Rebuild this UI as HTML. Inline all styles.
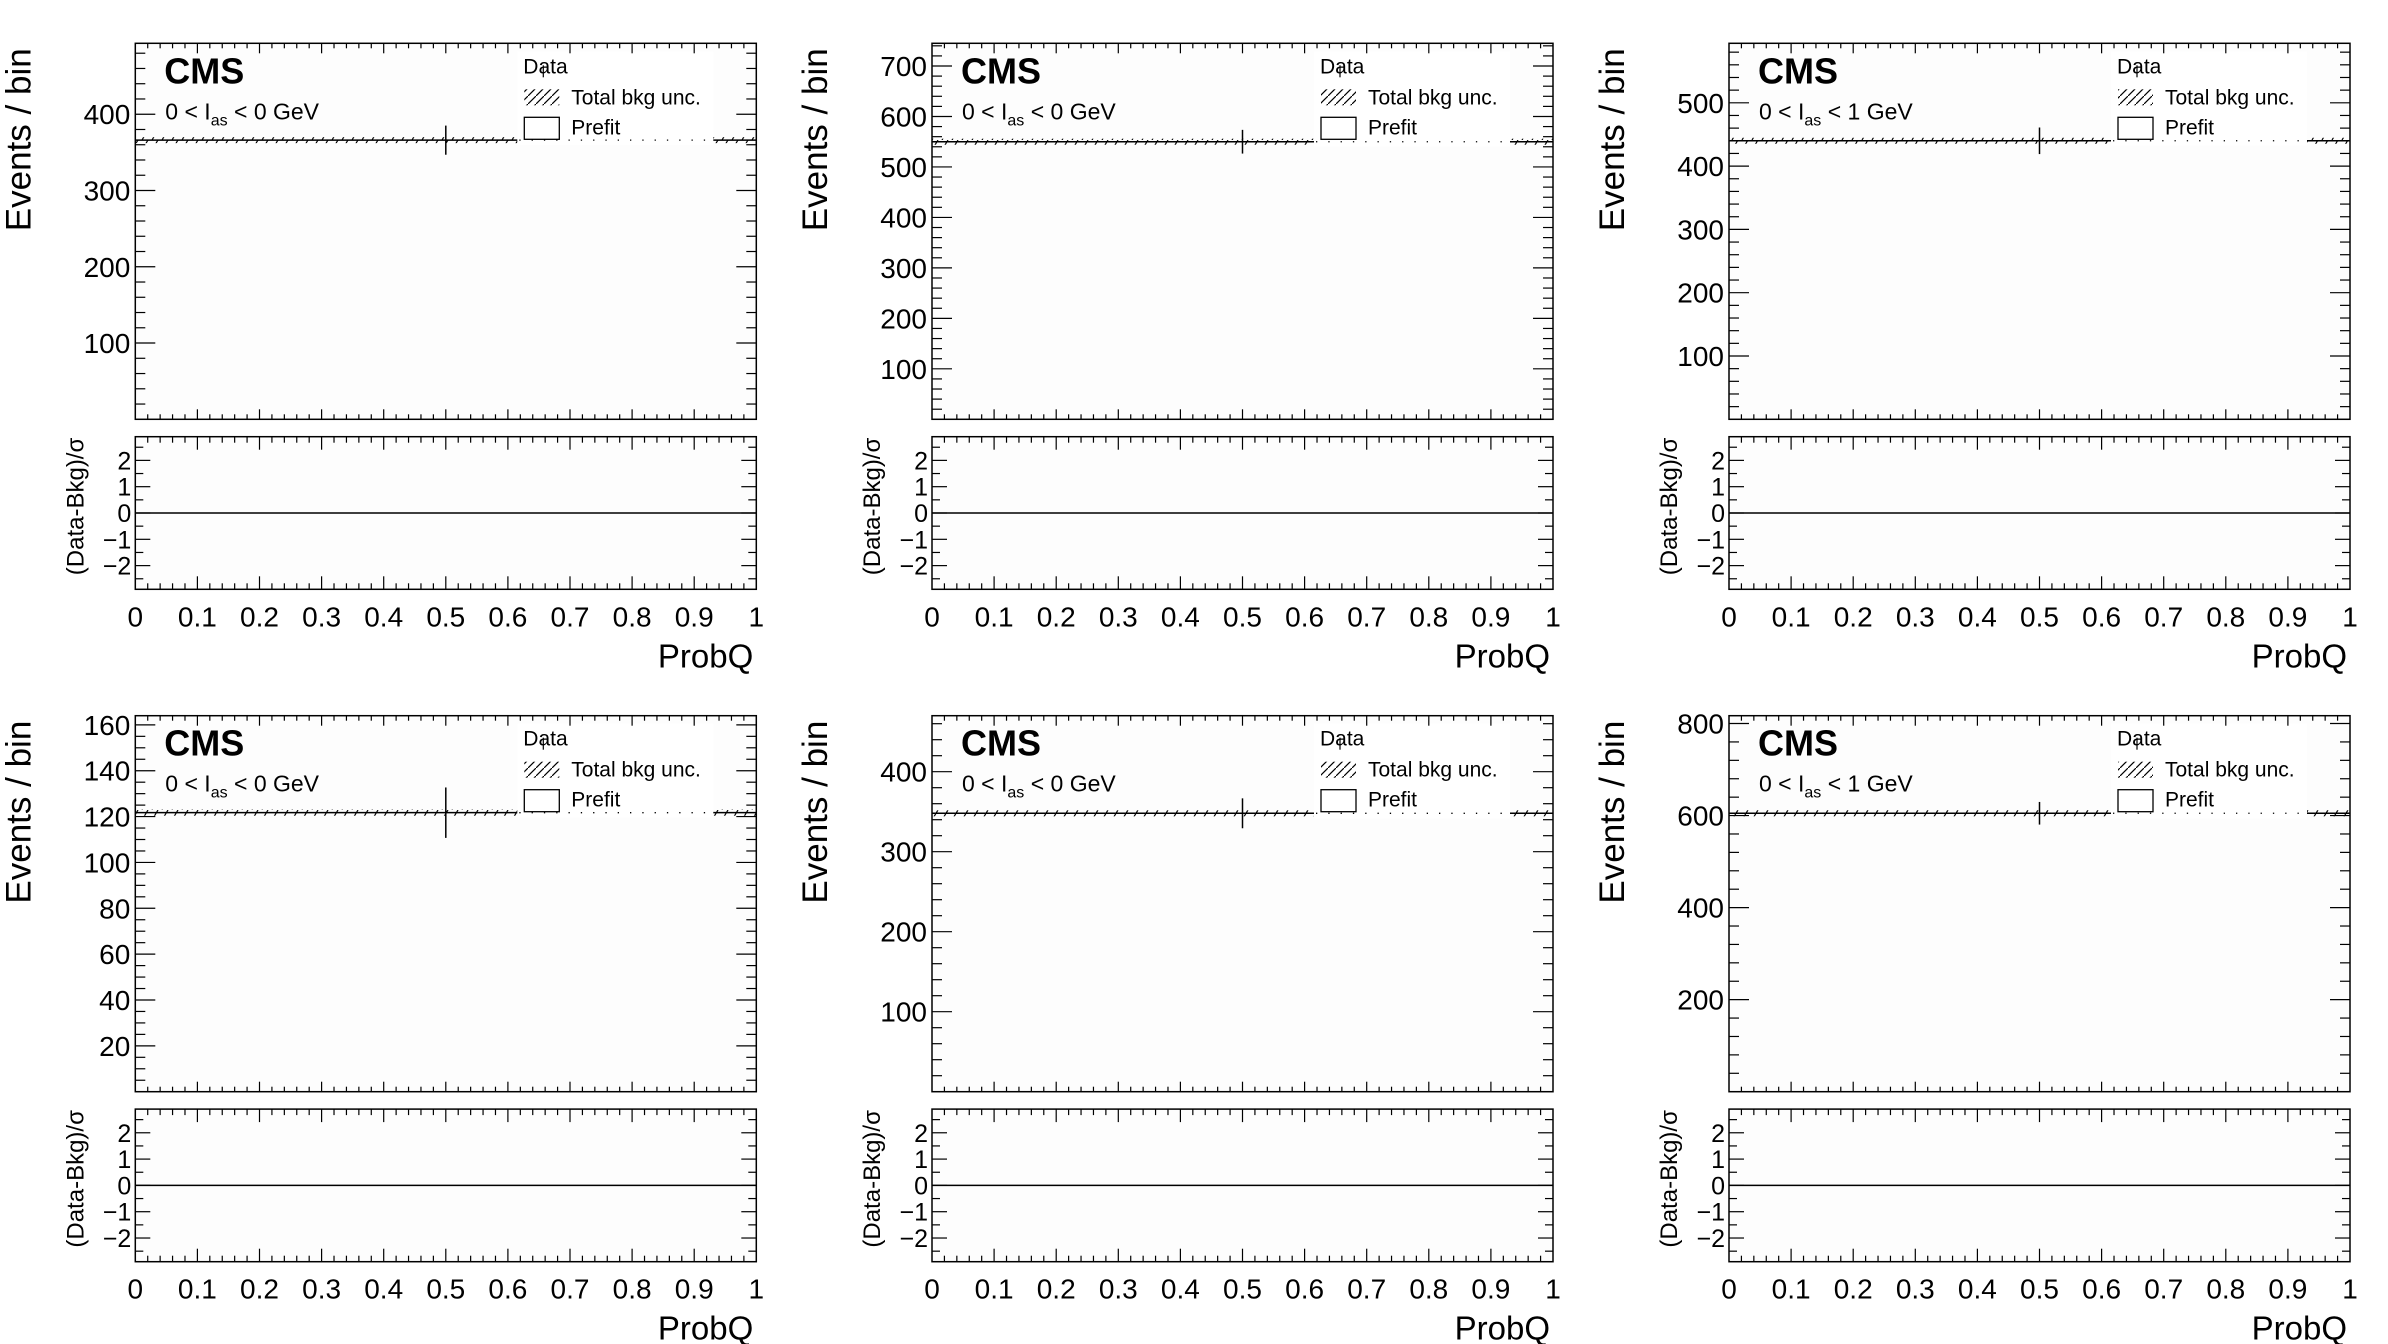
<!DOCTYPE html>
<html><head><meta charset="utf-8"><style>
html,body{margin:0;padding:0;background:#fff;}
svg{display:block;font-family:"Liberation Sans",Arial,sans-serif;}
</style></head><body>
<svg id="fig" width="2388" height="1344" viewBox="0 0 2388 1344" xmlns="http://www.w3.org/2000/svg">
<defs>
<pattern id="hatch" patternUnits="userSpaceOnUse" width="10" height="10">
<line x1="2" y1="10" x2="8" y2="0" stroke="#000" stroke-width="1.2"/>
</pattern>
<pattern id="hatch2" patternUnits="userSpaceOnUse" width="8" height="8">
<line x1="0" y1="8" x2="8" y2="0" stroke="#000" stroke-width="1.2"/>
</pattern>
</defs>
</svg>
<script>
// ---- data ----
const panelLabels = ["0 < I_as < 0 GeV","0 < I_as < 0 GeV","0 < I_as < 1 GeV","0 < I_as < 0 GeV","0 < I_as < 0 GeV","0 < I_as < 1 GeV"];
const yMax = [493, 745, 594, 164, 470, 817];
const yMajorStep = [100, 100, 100, 20, 100, 200];
const yMinorStep = [20, 20, 20, 5, 20, 40];
const bkgValues = [366, 550, 440, 121.7, 348, 605];
const bkgErrors = [2.6, 4, 3.2, 0.9, 2.5, 4.4];
const dataX = [0.5, 0.5, 0.5, 0.5, 0.5, 0.5];
const dataValues = [366, 550, 440, 121.7, 348, 605];
const dataErrors = [19.1, 23.5, 21, 11, 18.7, 24.6];
const pullValues = [0, 0, 0, 0, 0, 0];
const xTicks = [0,0.1,0.2,0.3,0.4,0.5,0.6,0.7,0.8,0.9,1];
const xTickLabels = ["0","0.1","0.2","0.3","0.4","0.5","0.6","0.7","0.8","0.9","1"];
const rTicks = [-2,-1,0,1,2];
const rTickLabels = ["\u22122","\u22121","0","1","2"];
const rRange = [-2.9, 2.9];

// ---- layout ----
const NS = "http://www.w3.org/2000/svg";
const svg = document.getElementById('fig');
const colX = [135.3, 932, 1729];
const rowY = [43.3, 715.7];
const W = 621, UH = 376, RT = 393.4, RH = 152.6;

function mk(tag, attrs, parent) {
  const e = document.createElementNS(NS, tag);
  for (const k in attrs) e.setAttribute(k, attrs[k]);
  (parent || svg).appendChild(e);
  return e;
}
function txt(s, attrs, parent) { const t = mk('text', attrs, parent); t.textContent = s; return t; }

for (let p = 0; p < 6; p++) {
  const L = colX[p % 3], T = rowY[Math.floor(p / 3)];
  const g = mk('g', {});
  
  
  const xs = v => L + v * W;
  const ys = v => T + UH - v / yMax[p] * UH;
  const rT = T + RT;
  const rs = v => rT + (rRange[1] - v) / (rRange[1] - rRange[0]) * RH;

  mk('rect', {x: L, y: T, width: W, height: UH, fill: '#fdfdfd'}, g);
  mk('rect', {x: L, y: rT, width: W, height: RH, fill: '#fdfdfd'}, g);

  const band = mk('rect', {x: L, y: ys(bkgValues[p] + bkgErrors[p]) - 1, width: W, height: Math.max(ys(bkgValues[p] - bkgErrors[p]) - ys(bkgValues[p] + bkgErrors[p]) + 2, 4), fill: 'url(#hatch)'}, g);
  
  
  const bl = mk('line', {x1: L, x2: L + W, y1: ys(bkgValues[p]), y2: ys(bkgValues[p]), stroke: '#000', 'stroke-width': 1.5}, g);
  
  

  const dp = mk('line', {x1: xs(dataX[p]), x2: xs(dataX[p]), y1: ys(dataValues[p] + dataErrors[p]), y2: ys(dataValues[p] - dataErrors[p]), stroke: '#000', 'stroke-width': 1.5}, g);
  
  

  // legend
  const lg = mk('g', {}, g);
  
  
  const by = ys(bkgValues[p]);
  mk('rect', {x: L + 382, y: T + 8, width: 196, height: by - T - 8 + 5, fill: '#fff'}, lg);
  mk('line', {x1: L + 384, x2: L + 578, y1: by, y2: by, stroke: '#000', 'stroke-width': 1.3, 'stroke-dasharray': '1.3 11'}, lg);
  txt('Data', {x: L + 388, y: T + 30, 'font-size': 21}, lg);
  mk('line', {x1: L + 408, x2: L + 408, y1: T + 22, y2: T + 34, stroke: '#000', 'stroke-width': 1.2}, lg);
  mk('rect', {x: L + 389, y: T + 46, width: 35, height: 16, fill: 'url(#hatch2)'}, lg);
  txt('Total bkg unc.', {x: L + 436, y: T + 61, 'font-size': 21}, lg);
  mk('rect', {x: L + 389, y: T + 74, width: 35, height: 22, fill: 'none', stroke: '#000', 'stroke-width': 1.3}, lg);
  txt('Prefit', {x: L + 436, y: T + 91, 'font-size': 21}, lg);

  const cms = txt('CMS', {x: L + 29, y: T + 40, 'font-size': 36, 'font-weight': 'bold'}, g);
  
  
  const parts = panelLabels[p].split('I_as');
  const lab = mk('text', {x: L + 30, y: T + 76, 'font-size': 23}, g);
  
  
  const s1 = mk('tspan', {}, lab); s1.textContent = parts[0] + 'I';
  const s2 = mk('tspan', {dy: 6, 'font-size': 16}, lab); s2.textContent = 'as';
  const s3 = mk('tspan', {dy: -6}, lab); s3.textContent = parts[1];

  for (let v = yMinorStep[p]; v < yMax[p]; v += yMinorStep[p]) {
    const major = Math.abs(v / yMajorStep[p] - Math.round(v / yMajorStep[p])) < 1e-6;
    const len = major ? 20 : 10;
    mk('line', {x1: L, x2: L + len, y1: ys(v), y2: ys(v), stroke: '#000', 'stroke-width': 1.2}, g);
    mk('line', {x1: L + W, x2: L + W - len, y1: ys(v), y2: ys(v), stroke: '#000', 'stroke-width': 1.2}, g);
    if (major) {
      const t = txt(String(v), {x: L - 5, y: ys(v) + 10, 'font-size': 28, 'text-anchor': 'end'}, g);
      
      
    }
  }
  for (let i = 1; i < 50; i++) {
    const v = i / 50;
    const major = i % 5 === 0;
    const x = xs(v);
    mk('line', {x1: x, x2: x, y1: T + UH, y2: T + UH - (major ? 10 : 5), stroke: '#000', 'stroke-width': 1.2}, g);
    mk('line', {x1: x, x2: x, y1: T, y2: T + (major ? 10 : 5), stroke: '#000', 'stroke-width': 1.2}, g);
    mk('line', {x1: x, x2: x, y1: rT + RH, y2: rT + RH - (major ? 13 : 6), stroke: '#000', 'stroke-width': 1.2}, g);
    mk('line', {x1: x, x2: x, y1: rT, y2: rT + (major ? 13 : 6), stroke: '#000', 'stroke-width': 1.2}, g);
  }
  xTicks.forEach((v, i) => {
    const t = txt(xTickLabels[i], {x: xs(v), y: rT + RH + 37, 'font-size': 28, 'text-anchor': 'middle'}, g);
    
    
  });
  for (let v = -2.5; v <= 2.5; v += 0.5) {
    const major = Math.abs(v - Math.round(v)) < 1e-6;
    const len = major ? 15 : 8;
    mk('line', {x1: L, x2: L + len, y1: rs(v), y2: rs(v), stroke: '#000', 'stroke-width': 1.2}, g);
    mk('line', {x1: L + W, x2: L + W - len, y1: rs(v), y2: rs(v), stroke: '#000', 'stroke-width': 1.2}, g);
  }
  rTicks.forEach((v, i) => {
    const t = txt(rTickLabels[i], {x: L - 4, y: rs(v) + 9, 'font-size': 25, 'text-anchor': 'end'}, g);
    
    
  });
  const zl = mk('line', {x1: L, x2: L + W, y1: rs(pullValues[p]), y2: rs(pullValues[p]), stroke: '#000', 'stroke-width': 1.5}, g);
  
  

  mk('rect', {x: L, y: T, width: W, height: UH, fill: 'none', stroke: '#000', 'stroke-width': 1.5}, g);
  mk('rect', {x: L, y: rT, width: W, height: RH, fill: 'none', stroke: '#000', 'stroke-width': 1.5}, g);

  const yt = txt('Events / bin', {x: 0, y: 0, 'font-size': 35, 'text-anchor': 'end', transform: `translate(${L - 105},${T + 5}) rotate(-90)`}, g);
  
  
  const rt = txt('(Data-Bkg)/\u03c3', {x: 0, y: 0, 'font-size': 24, 'text-anchor': 'end', transform: `translate(${L - 52},${rT + 1}) rotate(-90)`}, g);
  
  
  const xt = txt('ProbQ', {x: L + W - 3, y: rT + RH + 78, 'font-size': 33, 'text-anchor': 'end'}, g);
  
  
}
</script>
</body></html>
